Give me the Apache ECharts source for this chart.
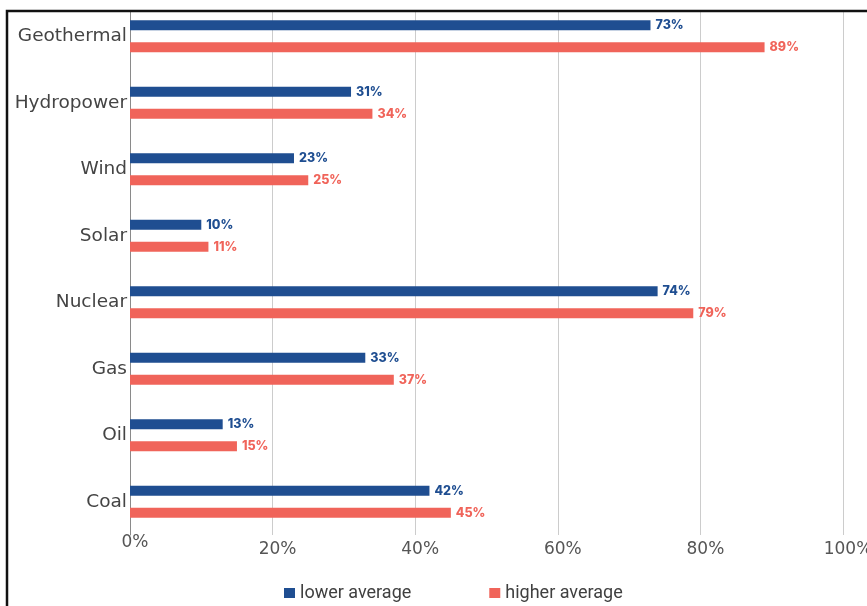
<!DOCTYPE html>
<html>
<head>
<meta charset="utf-8">
<script src="https://cdn.jsdelivr.net/npm/echarts@6/dist/echarts.min.js"></script>
<style>
  html, body { margin: 0; padding: 0; background: #ffffff; }
  #chart { width: 867px; height: 606px; }
</style>
</head>
<body>
<div id="chart"></div>
<script>
// Capacity factor by energy source
const categories = ['Geothermal', 'Hydropower', 'Wind', 'Solar', 'Nuclear', 'Gas', 'Oil', 'Coal'];
const lowerAverage = [73, 31, 23, 10, 74, 33, 13, 42];
const higherAverage = [89, 34, 25, 11, 79, 37, 15, 45];
const seriesNames = ['lower average', 'higher average'];
const xTicks = { min: 0, max: 100, step: 20 };

const BLUE = '#1f4e91';
const RED = '#f0645a';

const chart = echarts.init(document.getElementById('chart'));

function barSeries(name, data, color) {
  return {
    name: name,
    type: 'bar',
    data: data,
    barWidth: 10,
    barGap: '120%',
    itemStyle: { color: color },
    label: {
      show: true,
      position: 'right',
      distance: 5,
      formatter: '{c}%',
      color: color,
      fontFamily: 'Inter',
      fontWeight: 800,
      fontSize: 12.5
    }
  };
}

chart.setOption({
  backgroundColor: '#ffffff',
  animation: false,
  grid: { left: 130, right: 24, top: 3, height: 532, containLabel: false, outerBoundsMode: 'none' },
  legend: {
    top: 579,
    left: 279,
    itemWidth: 11,
    itemHeight: 10,
    itemGap: 78,
    icon: 'rect',
    textStyle: { fontFamily: 'Roboto', fontSize: 18, color: '#404040' },
    data: seriesNames
  },
  xAxis: {
    type: 'value',
    min: xTicks.min,
    max: xTicks.max,
    interval: xTicks.step,
    axisLine: { show: false },
    axisTick: { show: false },
    axisLabel: {
      // the zero label sits a little higher than the others
      formatter: function (v) { return v === 0 ? '{z|' + v + '%}' : '{n|' + v + '%}'; },
      fontFamily: 'DejaVu Sans',
      fontSize: 17,
      color: '#555555',
      verticalAlign: 'middle',
      margin: 15,
      rich: {
        z: { fontFamily: 'DejaVu Sans', fontSize: 17, color: '#555555', padding: [0, 0, 15, 10] },
        n: { fontFamily: 'DejaVu Sans', fontSize: 17, color: '#555555', padding: [0, 0, 0, 10] }
      }
    },
    splitLine: { lineStyle: { color: '#cccccc', width: 1 } }
  },
  yAxis: {
    type: 'category',
    data: categories,
    inverse: true,
    axisLine: { show: true, lineStyle: { color: '#8a8a8a', width: 1 } },
    axisTick: { show: false },
    axisLabel: {
      fontFamily: 'DejaVu Sans',
      fontSize: 18.5,
      color: '#444444',
      margin: 3
    }
  },
  series: [
    barSeries(seriesNames[0], lowerAverage, BLUE),
    barSeries(seriesNames[1], higherAverage, RED)
  ],
  graphic: [
    // white margin above and left of the frame
    { type: 'rect', z: 100, shape: { x: 0, y: 0, width: 867, height: 10 }, style: { fill: '#ffffff' } },
    { type: 'rect', z: 100, shape: { x: 0, y: 0, width: 6, height: 606 }, style: { fill: '#ffffff' } },
    // frame
    { type: 'rect', z: 101, shape: { x: 7, y: 11, width: 900, height: 700 }, style: { fill: null, stroke: '#111111', lineWidth: 2.5 } }
  ]
});
</script>
</body>
</html>
